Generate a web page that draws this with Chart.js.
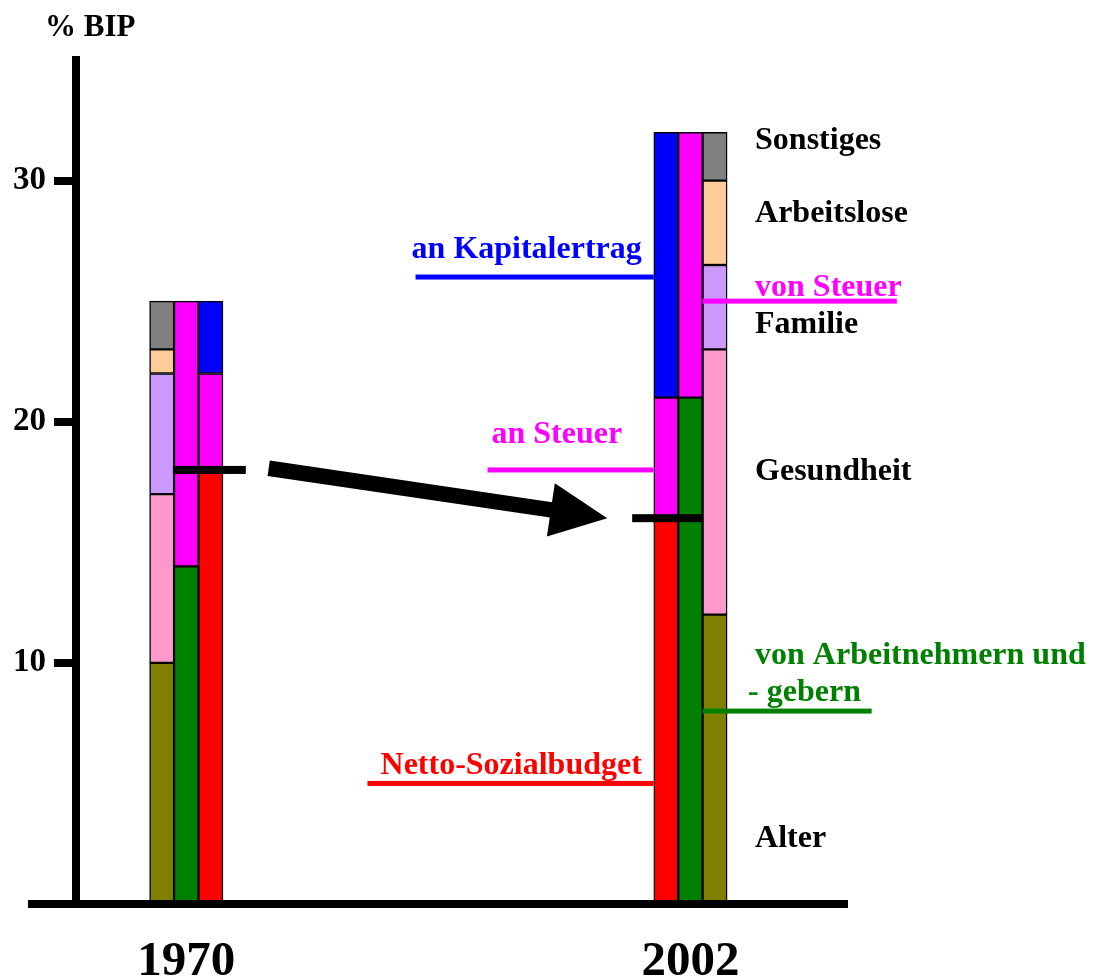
<!DOCTYPE html>
<html>
<head>
<meta charset="utf-8">
<script src="https://cdn.jsdelivr.net/npm/chart.js@4/dist/chart.umd.min.js"></script>
<style>
  html, body { margin: 0; padding: 0; background: #fff; }
  canvas { display: block; }
</style>
</head>
<body>
<canvas id="chart" width="1096" height="976"></canvas>
<script>
// Sozialbudget in % des BIP
const years = [1970, 2002];

// Leistungen nach Funktionen
const alter = [10, 12];
const gesundheit = [7, 11];
const familie = [5, 3.5];
const arbeitslose = [1, 3.5];
const sonstiges = [2, 2];

// Finanzierung
const beitraege = [14, 21];   // von Arbeitnehmern und -gebern
const vonSteuer = [11, 11];

// Verwendung
const nettoSozialbudget = [18, 16];
const anSteuer = [4, 5];
const anKapitalertrag = [3, 11];

const yTicks = [10, 20, 30];

const FONT = '"Liberation Serif", "Times New Roman", serif';
const SLOT = 1.55;          // abstand der drei balken in jahren
const BAR_W = 24.5;

// 1970: Funktionen | Finanzierung | Verwendung, 2002 umgekehrt
const offFunktion = [-SLOT, SLOT];
const offFinanz = [0, 0];
const offVerwendung = [SLOT, -SLOT];

function stackSeries(groups, offsets) {
  const base = years.map(() => 0);
  return groups.map(g => ({
    label: g.label,
    backgroundColor: g.color,
    data: years.map((yr, i) => {
      const lo = base[i];
      const hi = lo + g.values[i];
      base[i] = hi;
      return { x: yr + offsets[i], y: [lo, hi] };
    })
  }));
}

const datasets = [
  ...stackSeries([
    { label: 'Alter', values: alter, color: '#808000' },
    { label: 'Gesundheit', values: gesundheit, color: '#ff99cc' },
    { label: 'Familie', values: familie, color: '#cc99ff' },
    { label: 'Arbeitslose', values: arbeitslose, color: '#ffcc99' },
    { label: 'Sonstiges', values: sonstiges, color: '#808080' }
  ], offFunktion),
  ...stackSeries([
    { label: 'von Arbeitnehmern und -gebern', values: beitraege, color: '#008000' },
    { label: 'von Steuer', values: vonSteuer, color: '#ff00ff' }
  ], offFinanz),
  ...stackSeries([
    { label: 'Netto-Sozialbudget', values: nettoSozialbudget, color: '#ff0000' },
    { label: 'an Steuer', values: anSteuer, color: '#ff00ff' },
    { label: 'an Kapitalertrag', values: anKapitalertrag, color: '#0000ff' }
  ], offVerwendung)
];

// beschriftungen, positionen in achsen-einheiten (jahr, % BIP)
const texts = [
  { text: 'Sonstiges', x: 2006.1, y: 31.65, color: '#000' },
  { text: 'Arbeitslose', x: 2006.1, y: 28.62, color: '#000' },
  { text: 'von Steuer', x: 2006.1, y: 25.55, color: '#ff00ff' },
  { text: 'Familie', x: 2006.1, y: 24.02, color: '#000' },
  { text: 'Gesundheit', x: 2006.1, y: 17.92, color: '#000' },
  { text: 'von Arbeitnehmern und', x: 2006.1, y: 10.29, color: '#008000' },
  { text: '- gebern', x: 2005.66, y: 8.75, color: '#008000' },
  { text: 'Alter', x: 2006.1, y: 2.7, color: '#000' },
  { text: 'an Kapitalertrag', x: 1984.3, y: 27.13, color: '#0000ff' },
  { text: 'an Steuer', x: 1989.37, y: 19.45, color: '#ff00ff' },
  { text: 'Netto-Sozialbudget', x: 1982.33, y: 5.73, color: '#ff0000' }
];

const leaders = [
  { x1: 1984.55, x2: 1999.67, y: 26, color: '#0000ff', w: 5 },
  { x1: 1989.12, x2: 1999.67, y: 18, color: '#ff00ff', w: 5 },
  { x1: 1981.5, x2: 1999.67, y: 5, color: '#ff0000', w: 5 },
  { x1: 2002.77, x2: 2015.1, y: 25, color: '#ff00ff', w: 5 },
  { x1: 2002.77, x2: 2013.5, y: 8, color: '#008000', w: 5 },
  // schwarze markierungen
  { x1: 1969.15, x2: 1973.78, y: 18, color: '#000', w: 8 },
  { x1: 1998.3, x2: 2002.78, y: 16, color: '#000', w: 8 }
];

const arrow = { x1: 1975.23, y1: 18.07, x2: 1996.72, y2: 16.0, width: 15.5, headLen: 57, headHalf: 27 };

const decorations = {
  id: 'decorations',
  afterDatasetsDraw(chart) {
    const { ctx, chartArea } = chart;
    const sx = chart.scales.x, sy = chart.scales.y;
    ctx.save();

    // x-achse, etwas ueber die y-achse hinaus
    const y0 = sy.getPixelForValue(0);
    ctx.fillStyle = '#000';
    ctx.fillRect(chartArea.left - 48, y0 - 4, chartArea.right - chartArea.left + 48, 8);

    leaders.forEach(l => {
      const yy = sy.getPixelForValue(l.y);
      ctx.fillStyle = l.color;
      const a = sx.getPixelForValue(l.x1), b = sx.getPixelForValue(l.x2);
      ctx.fillRect(a, yy - l.w / 2, b - a, l.w);
    });

    // pfeil
    const ax = sx.getPixelForValue(arrow.x1), ay = sy.getPixelForValue(arrow.y1);
    const bx = sx.getPixelForValue(arrow.x2), by = sy.getPixelForValue(arrow.y2);
    const ang = Math.atan2(by - ay, bx - ax);
    const hx = bx - arrow.headLen * Math.cos(ang), hy = by - arrow.headLen * Math.sin(ang);
    ctx.strokeStyle = '#000';
    ctx.lineWidth = arrow.width;
    ctx.lineCap = 'butt';
    ctx.beginPath();
    ctx.moveTo(ax, ay);
    ctx.lineTo(hx + 2 * Math.cos(ang), hy + 2 * Math.sin(ang));
    ctx.stroke();
    ctx.fillStyle = '#000';
    ctx.beginPath();
    ctx.moveTo(bx, by);
    ctx.lineTo(hx - arrow.headHalf * Math.sin(ang), hy + arrow.headHalf * Math.cos(ang));
    ctx.lineTo(hx + arrow.headHalf * Math.sin(ang), hy - arrow.headHalf * Math.cos(ang));
    ctx.closePath();
    ctx.fill();

    ctx.font = 'bold 32px ' + FONT;
    ctx.textBaseline = 'middle';
    ctx.textAlign = 'left';
    texts.forEach(t => {
      ctx.fillStyle = t.color;
      ctx.fillText(t.text, sx.getPixelForValue(t.x), sy.getPixelForValue(t.y));
    });

    // achsentitel
    ctx.fillStyle = '#000';
    ctx.font = 'bold 31px ' + FONT;
    ctx.fillText('% BIP', chartArea.left - 31, chartArea.top - 32);
    ctx.restore();
  }
};

new Chart(document.getElementById('chart'), {
  type: 'bar',
  data: { datasets },
  options: {
    responsive: false,
    animation: false,
    layout: { padding: { top: 60, right: 248, bottom: 0, left: 0 } },
    datasets: {
      bar: {
        grouped: false,
        barThickness: BAR_W,
        borderWidth: 1.5,
        borderColor: '#000',
        borderSkipped: false
      }
    },
    plugins: {
      legend: { display: false },
      tooltip: { enabled: false }
    },
    scales: {
      x: {
        type: 'linear',
        min: 1963,
        max: 2012,
        offset: false,
        grid: { display: false, drawTicks: false },
        border: { display: false },
        afterBuildTicks: s => { s.ticks = years.map(v => ({ value: v })); },
        afterFit: s => { s.height = 72; },
        ticks: {
          color: '#000',
          padding: 29,
          maxRotation: 0,
          font: { family: FONT, size: 49, weight: 'bold' },
          callback: v => String(v)
        }
      },
      y: {
        min: 0,
        max: 35,
        afterBuildTicks: s => { s.ticks = yTicks.map(v => ({ value: v })); },
        afterFit: s => { s.width = 76; },
        border: { color: '#000', width: 8 },
        grid: {
          drawOnChartArea: false,
          drawTicks: true,
          tickLength: 22,
          lineWidth: 8,
          tickWidth: 8,
          color: '#000',
          tickColor: '#000'
        },
        ticks: {
          color: '#000',
          padding: 8,
          font: { family: FONT, size: 33, weight: 'bold' },
          callback: v => String(v)
        }
      }
    }
  },
  plugins: [decorations]
});
</script>
</body>
</html>
